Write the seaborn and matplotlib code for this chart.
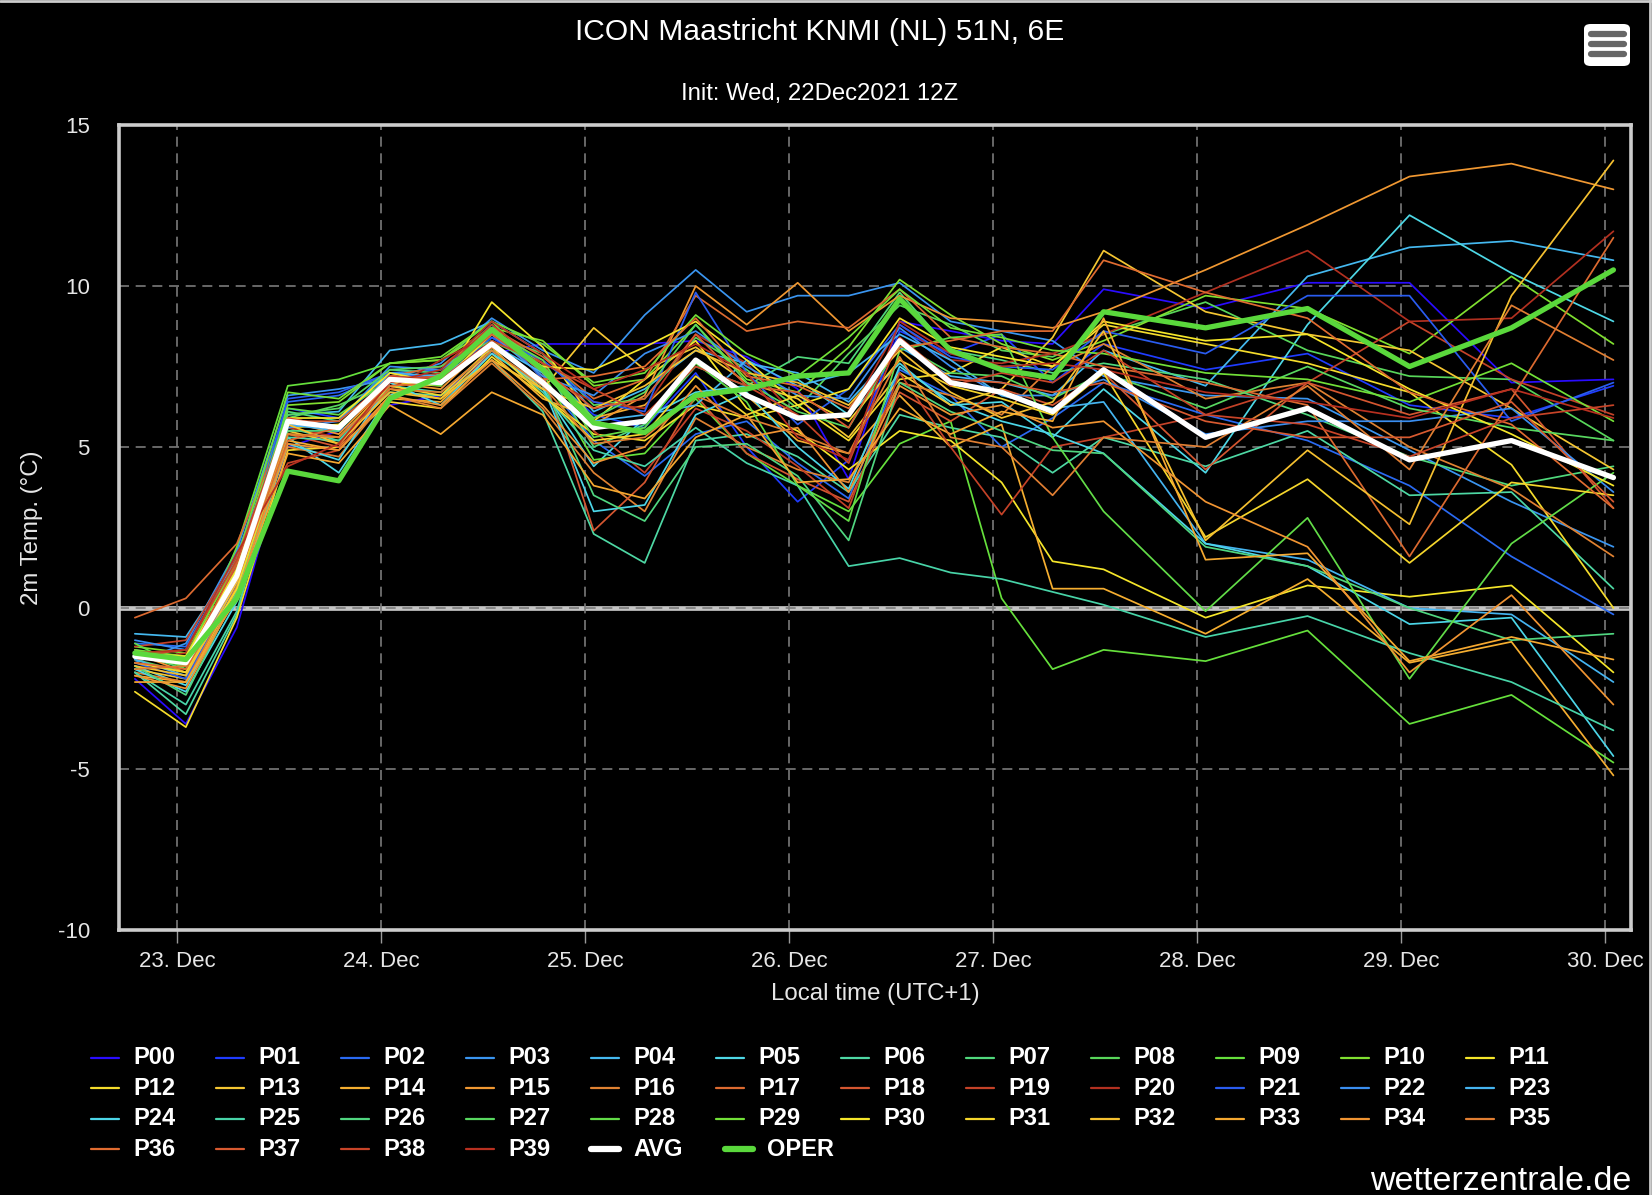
import matplotlib
matplotlib.use("Agg")
import matplotlib.pyplot as plt
import matplotlib.dates as mdates
from matplotlib.lines import Line2D
from matplotlib.patches import FancyBboxPatch
import pandas as pd
import seaborn as sns

# forecast steps in local time (UTC+1): 6-hourly to +120h, then 12-hourly
times = pd.to_datetime([
    "2021-12-22 19:00", "2021-12-23 01:00", "2021-12-23 07:00", "2021-12-23 13:00",
    "2021-12-23 19:00", "2021-12-24 01:00", "2021-12-24 07:00", "2021-12-24 13:00",
    "2021-12-24 19:00", "2021-12-25 01:00", "2021-12-25 07:00", "2021-12-25 13:00",
    "2021-12-25 19:00", "2021-12-26 01:00", "2021-12-26 07:00", "2021-12-26 13:00",
    "2021-12-26 19:00", "2021-12-27 01:00", "2021-12-27 07:00", "2021-12-27 13:00",
    "2021-12-28 01:00", "2021-12-28 13:00", "2021-12-29 01:00", "2021-12-29 13:00",
    "2021-12-30 01:00",
])

p00 = [-2.2, -3.6, -0.6, 5.0, 5.5, 6.3, 6.6, 7.9, 8.2, 8.2, 8.2, 8.3, 7.8, 6.8, 4.0, 8.9, 8.6, 8.3, 8.2, 9.9, 9.3, 10.1, 10.1, 7.0, 7.1]
p01 = [-1.3, -1.6, 1.2, 6.2, 5.9, 7.2, 7.1, 8.4, 7.4, 6.0, 5.6, 7.3, 5.0, 3.3, 4.6, 8.6, 7.9, 8.5, 7.0, 8.2, 7.4, 7.9, 6.3, 5.9, 6.9]
p02 = [-1.1, -1.2, 1.6, 6.4, 6.6, 7.3, 7.4, 8.8, 7.1, 5.2, 4.1, 5.4, 5.8, 4.5, 3.4, 7.4, 6.6, 5.0, 5.9, 7.0, 6.0, 5.2, 3.8, 1.6, -0.2]
p03 = [-1.7, -1.1, 1.8, 6.6, 6.8, 7.1, 7.6, 9.0, 8.0, 7.3, 9.1, 10.5, 9.2, 9.7, 9.7, 10.1, 8.9, 8.6, 8.3, 7.2, 6.6, 6.5, 4.9, 3.3, 1.9]
p04 = [-0.8, -0.9, 1.5, 6.0, 6.1, 8.0, 8.2, 8.9, 7.9, 6.1, 6.8, 8.0, 7.6, 7.3, 6.4, 8.1, 7.2, 7.0, 6.6, 8.0, 6.9, 10.3, 11.2, 11.4, 10.8]
p05 = [-1.8, -2.4, 0.4, 5.3, 4.2, 6.6, 7.3, 8.0, 6.8, 4.4, 5.9, 6.7, 6.9, 7.1, 6.0, 7.6, 6.3, 6.4, 5.3, 6.8, 4.2, 8.8, 12.2, 10.4, 8.9]
p06 = [-2.0, -3.3, -0.2, 5.6, 5.2, 6.7, 6.6, 7.7, 6.1, 2.3, 1.4, 5.2, 5.4, 4.7, 3.6, 6.0, 5.6, 5.3, 4.2, 5.3, 4.4, 5.5, 3.5, 3.6, 0.6]
p07 = [-1.4, -1.9, 1.3, 6.1, 5.8, 7.4, 7.3, 8.6, 7.6, 5.0, 5.7, 7.5, 6.9, 7.8, 7.6, 9.8, 8.0, 7.7, 7.3, 7.6, 7.1, 6.0, 4.7, 3.8, 4.4]
p08 = [-1.6, -2.0, 1.0, 5.9, 6.3, 7.0, 7.2, 8.5, 7.9, 6.3, 6.5, 8.4, 7.4, 6.2, 7.9, 9.4, 8.8, 8.0, 7.8, 8.5, 9.5, 8.0, 7.2, 7.1, 5.2]
p09 = [-1.5, -1.8, 1.9, 6.9, 7.1, 7.6, 7.7, 8.9, 7.3, 4.6, 4.8, 6.5, 4.8, 3.8, 3.0, 5.1, 5.8, 0.3, -1.9, -1.3, -1.65, -0.7, -3.6, -2.7, -4.8]
p10 = [-1.2, -1.4, 1.4, 6.3, 6.4, 7.6, 7.7, 8.7, 8.3, 6.9, 7.1, 8.8, 7.1, 6.7, 8.1, 10.2, 9.1, 8.2, 7.7, 8.3, 9.7, 9.3, 7.9, 10.3, 8.2]
p11 = [-1.6, -1.5, 1.0, 5.6, 5.7, 7.0, 6.9, 9.5, 8.1, 5.8, 7.1, 8.3, 6.2, 5.5, 4.3, 5.5, 5.2, 3.9, 1.45, 1.2, -0.3, 0.7, 0.35, 0.7, -2.0]
p12 = [-2.6, -3.7, -0.3, 4.9, 5.0, 6.4, 6.2, 7.8, 6.6, 5.4, 5.2, 6.3, 5.9, 6.3, 5.2, 7.1, 7.3, 8.1, 7.5, 8.8, 8.2, 7.6, 6.7, 4.45, 0.0]
p13 = [-1.9, -2.2, 0.6, 5.5, 5.1, 6.8, 6.5, 8.0, 6.8, 8.7, 7.4, 8.1, 7.0, 6.5, 5.3, 7.3, 6.3, 6.8, 8.4, 11.1, 9.2, 8.5, 8.0, 6.2, 4.3]
p14 = [-2.1, -2.3, 0.5, 5.2, 4.9, 6.5, 6.4, 7.9, 6.5, 5.9, 6.3, 7.7, 6.6, 5.2, 4.8, 6.6, 5.0, 5.7, 0.6, 0.6, -0.8, 0.9, -1.7, -1.05, -5.2]
p15 = [-1.4, -2.0, 0.9, 5.8, 5.4, 7.0, 6.8, 8.3, 7.0, 5.7, 6.6, 10.0, 8.8, 10.1, 8.6, 9.7, 9.0, 8.9, 8.7, 9.2, 10.5, 11.9, 13.4, 13.8, 13.0]
p16 = [-2.0, -2.3, 0.7, 5.0, 4.7, 6.6, 6.2, 7.6, 6.2, 4.2, 3.0, 5.9, 5.0, 4.3, 3.9, 7.0, 6.6, 6.0, 7.5, 8.2, 6.5, 7.0, 5.0, 3.7, 1.6]
p17 = [-0.3, 0.3, 2.0, 5.9, 5.6, 7.2, 7.5, 8.7, 7.8, 6.5, 7.1, 9.7, 8.6, 8.9, 8.7, 9.9, 8.4, 8.1, 7.9, 7.5, 7.0, 6.3, 1.6, 6.5, 11.5]
p18 = [-1.3, -1.7, 1.3, 5.4, 5.0, 7.2, 6.9, 8.6, 7.3, 2.4, 3.9, 6.6, 4.8, 4.0, 3.3, 6.7, 5.8, 6.8, 6.3, 7.3, 4.3, 7.0, 6.0, 6.8, 3.1]
p19 = [-1.2, -1.0, 1.6, 4.5, 4.9, 7.0, 7.3, 8.8, 7.6, 5.5, 4.2, 6.2, 5.5, 4.4, 3.1, 7.3, 5.0, 2.9, 5.0, 5.3, 6.0, 7.0, 8.9, 7.1, 6.0]
p20 = [-1.6, -1.4, 1.1, 5.6, 5.3, 6.8, 7.7, 8.5, 7.2, 6.4, 6.2, 8.5, 7.6, 5.9, 6.0, 8.8, 7.7, 7.6, 7.9, 8.5, 9.8, 11.1, 8.9, 9.0, 11.7]
p21 = [-1.7, -2.2, 0.8, 6.5, 6.7, 7.3, 7.1, 8.4, 7.7, 6.4, 6.1, 9.8, 7.3, 5.7, 6.8, 8.8, 7.8, 7.5, 7.4, 8.6, 7.9, 9.7, 9.7, 5.8, 7.0]
p22 = [-1.0, -1.3, 1.7, 5.6, 5.8, 7.5, 7.4, 8.5, 7.2, 6.6, 7.9, 8.6, 7.5, 6.6, 6.5, 8.7, 7.5, 6.6, 6.6, 7.1, 5.4, 5.8, 5.8, 6.2, 3.6]
p23 = [-1.6, -2.1, 0.9, 5.7, 5.5, 7.3, 7.2, 8.2, 7.3, 5.8, 6.0, 6.3, 7.7, 6.9, 7.3, 8.5, 7.7, 6.6, 6.2, 6.4, 2.0, 1.5, 0.0, -0.2, -2.3]
p24 = [-1.9, -2.6, 0.2, 5.1, 4.6, 7.0, 6.3, 7.9, 6.9, 3.0, 3.2, 6.0, 6.7, 5.0, 3.7, 7.5, 6.4, 5.8, 5.4, 4.8, 2.0, 1.3, -0.5, -0.3, -4.6]
p25 = [-2.0, -3.0, -0.1, 5.3, 5.2, 6.9, 6.7, 8.0, 6.7, 4.9, 4.4, 5.6, 4.5, 3.8, 1.3, 1.55, 1.1, 0.9, 0.5, 0.1, -0.9, -0.25, -1.4, -2.3, -3.8]
p26 = [-1.8, -2.7, 0.5, 5.5, 5.5, 7.1, 7.0, 8.2, 7.0, 3.5, 2.7, 5.0, 5.1, 4.1, 2.1, 7.0, 6.1, 5.5, 4.9, 4.8, 1.9, 1.3, 0.0, -1.0, -0.8]
p27 = [-1.5, -1.6, 1.2, 6.0, 6.2, 7.4, 7.5, 8.3, 7.5, 5.9, 6.7, 8.8, 7.0, 6.1, 5.6, 8.2, 7.3, 7.2, 6.5, 7.3, 6.2, 7.5, 6.2, 5.6, 5.2]
p28 = [-1.1, -1.9, 1.1, 6.2, 6.0, 7.1, 6.9, 8.6, 7.7, 5.3, 5.6, 7.6, 6.4, 3.8, 2.7, 8.0, 8.4, 8.5, 5.3, 3.0, -0.1, 2.8, -2.2, 2.0, 4.2]
p29 = [-1.3, -1.5, 1.5, 6.7, 6.5, 7.6, 7.8, 8.9, 8.2, 7.0, 7.3, 9.1, 7.9, 7.2, 8.4, 9.9, 8.7, 8.4, 8.0, 7.9, 7.3, 7.1, 6.4, 7.6, 5.8]
p30 = [-1.4, -1.5, 1.2, 5.9, 5.9, 7.3, 7.0, 8.5, 7.5, 7.4, 8.1, 8.9, 7.7, 6.3, 6.8, 9.0, 8.1, 7.8, 7.5, 8.9, 8.3, 8.5, 6.8, 5.4, 3.8]
p31 = [-1.7, -2.0, 0.6, 5.4, 5.3, 6.9, 6.6, 8.1, 6.6, 5.2, 5.4, 7.2, 6.0, 6.6, 5.8, 7.7, 6.9, 6.5, 6.0, 7.3, 2.2, 4.0, 1.4, 3.9, 3.5]
p32 = [-1.8, -2.1, 0.8, 5.7, 5.1, 6.7, 6.5, 7.7, 6.8, 6.2, 6.9, 8.0, 7.3, 7.0, 6.3, 8.0, 6.7, 5.9, 6.4, 8.6, 2.1, 4.9, 2.6, 9.7, 13.9]
p33 = [-2.3, -2.3, 0.3, 4.8, 4.5, 6.3, 5.4, 6.7, 6.0, 3.8, 3.4, 5.3, 6.0, 3.9, 4.0, 6.2, 5.4, 6.1, 5.8, 9.0, 1.5, 1.7, -1.65, -0.9, -1.6]
p34 = [-2.1, -2.5, 0.4, 5.1, 4.9, 6.6, 6.3, 7.7, 6.3, 4.5, 5.0, 6.9, 5.3, 5.6, 3.6, 6.9, 6.0, 6.3, 5.6, 5.8, 3.3, 1.9, -2.0, 0.4, -3.0]
p35 = [-1.9, -1.8, 1.0, 5.4, 5.3, 6.8, 6.7, 8.0, 6.9, 5.1, 5.3, 6.6, 5.9, 5.4, 4.8, 7.8, 5.3, 5.0, 3.5, 5.3, 5.0, 6.9, 4.3, 9.4, 7.7]
p36 = [-1.7, -1.9, 0.9, 5.2, 5.6, 6.9, 7.0, 8.1, 7.1, 7.2, 7.5, 9.0, 7.2, 6.9, 6.2, 8.1, 8.3, 8.6, 8.6, 10.8, 9.8, 9.0, 6.7, 5.7, 3.1]
p37 = [-1.5, -1.7, 1.4, 5.8, 5.8, 7.1, 7.2, 8.5, 7.4, 6.2, 6.5, 8.5, 6.9, 6.7, 5.6, 8.4, 7.1, 7.0, 6.7, 7.0, 5.8, 5.3, 5.3, 6.4, 3.3]
p38 = [-1.5, -1.3, 1.5, 5.9, 5.6, 7.2, 7.1, 8.3, 7.6, 6.8, 6.0, 7.5, 6.9, 6.0, 4.5, 8.4, 6.9, 7.3, 7.0, 8.0, 6.0, 5.7, 4.7, 5.9, 6.3]
p39 = [-1.4, -1.3, 1.7, 4.4, 5.1, 7.0, 7.4, 8.9, 7.9, 6.8, 7.4, 8.2, 7.3, 5.3, 4.6, 8.9, 7.9, 7.5, 7.6, 7.4, 6.7, 6.4, 5.9, 6.8, 5.9]

avg = [-1.5, -1.7, 1.0, 5.8, 5.6, 7.1, 7.0, 8.2, 7.0, 5.6, 5.8, 7.7, 6.6, 5.9, 6.0, 8.3, 7.0, 6.7, 6.1, 7.4, 5.3, 6.2, 4.6, 5.2, 4.05]
oper = [-1.4, -1.6, 0.3, 4.25, 3.95, 6.5, 7.2, 8.65, 7.4, 5.75, 5.45, 6.6, 6.8, 7.2, 7.3, 9.6, 8.0, 7.4, 7.15, 9.2, 8.7, 9.3, 7.5, 8.7, 10.5]

members = [p00, p01, p02, p03, p04, p05, p06, p07, p08, p09,
           p10, p11, p12, p13, p14, p15, p16, p17, p18, p19,
           p20, p21, p22, p23, p24, p25, p26, p27, p28, p29,
           p30, p31, p32, p33, p34, p35, p36, p37, p38, p39]
member_names = [f"P{i:02d}" for i in range(len(members))]

member_colors = [
    "#2a0cff", "#1f3cff", "#2a6af2", "#3a95f0", "#45b9f0", "#4ed8e6", "#4ed8a4",
    "#50d87c", "#58d65a", "#66e03c", "#80e030", "#f5e62a", "#f5dc2c", "#f5c632",
    "#f5ae30", "#f09832", "#e08232", "#dc6a30", "#d45630", "#c44228", "#b23020",
    "#2a5cf0", "#3a8ef0", "#45b4f0", "#4cd6e8", "#48d4a8", "#50d680", "#58d860",
    "#62dc48", "#72e038", "#f5e62a", "#f5d62c", "#f5c030", "#f5a830", "#f09432",
    "#e07e32", "#e06c30", "#d85a30", "#c84428", "#b83020",
]
avg_color = "#ffffff"
oper_color = "#5ad83c"

W, H = 1652, 1195

rows = []
for name, vals in zip(member_names, members):
    for t, v in zip(times, vals):
        rows.append((t, v, name))
df = pd.DataFrame(rows, columns=["time", "temp", "member"])

sns.set_theme(style="dark")
plt.rcParams['font.family'] = ['Liberation Sans', 'DejaVu Sans']
plt.rcParams['axes.unicode_minus'] = False

fig = plt.figure(figsize=(W / 100, H / 100), dpi=100, facecolor="black")
ax = fig.add_axes([119 / W, 1 - 930 / H, (1631 - 119) / W, (930 - 125) / H])
ax.set_facecolor("black")

palette = dict(zip(member_names, member_colors))
sns.lineplot(data=df, x="time", y="temp", hue="member", palette=palette,
             linewidth=1.25, legend=False, estimator=None, ax=ax)
sns.lineplot(x=times, y=avg, color=avg_color, linewidth=3.8, ax=ax)
sns.lineplot(x=times, y=oper, color=oper_color, linewidth=3.8, ax=ax)

# grid, zero line and frame
ax.set_axisbelow(True)
ax.grid(True, color="#7a7a7a", linestyle=(0, (6, 4)), linewidth=1.2)
ax.axhline(0, color="#c4c4c4", linewidth=3.4, zorder=0.4)
for sp in ax.spines.values():
    sp.set_visible(True)
    sp.set_color("#cccccc")
    sp.set_linewidth(2.6)

ax.set_xlim(pd.Timestamp("2021-12-22 17:08"), pd.Timestamp("2021-12-30 03:04"))
ax.set_ylim(-10, 15)
ax.set_yticks([-10, -5, 0, 5, 10, 15])
ax.set_xticks(pd.date_range("2021-12-23", "2021-12-30", freq="D"))
ax.xaxis.set_major_formatter(mdates.DateFormatter("%d. %b"))
ax.tick_params(axis="y", length=0, pad=21, labelsize=16, labelcolor="#e6e6e6")
ax.tick_params(axis="x", length=9, width=1, color="#9a9a9a", pad=6,
               labelsize=16, labelcolor="#e6e6e6", bottom=True)

ax.set_xlabel("Local time (UTC+1)", color="#e6e6e6", fontsize=17.3, labelpad=8)
ax.set_ylabel("2m Temp. (°C)", color="#e6e6e6", fontsize=17.3, va="center")
ax.yaxis.set_label_coords((32 - 119) / (1631 - 119), 0.5)

fig.text(820 / W, 1 - 32 / H, "ICON Maastricht KNMI (NL) 51N, 6E", color="white",
         fontsize=21.6, ha="center", va="center")
fig.text(820 / W, 1 - 94 / H, "Init: Wed, 22Dec2021 12Z", color="white",
         fontsize=17.2, ha="center", va="center")

# legend laid out row by row, 12 columns
entries = [(n, c, 1.6) for n, c in zip(member_names, member_colors)]
entries += [("AVG", avg_color, 4.5), ("OPER", oper_color, 4.5)]
for i, (name, color, lw) in enumerate(entries):
    r, c = divmod(i, 12)
    y = 1 - (1058 + 30.4 * r) / H
    xt = 133 + 125 * c
    if name == "OPER":
        xt += 9
    fig.add_artist(Line2D([(xt - 42) / W, (xt - 14) / W], [y, y], color=color,
                          linewidth=lw, transform=fig.transFigure))
    fig.text(xt / W, y, name, color="white", fontsize=17, fontweight="bold",
             ha="left", va="center")

fig.text(1631 / W, 1 - 1181 / H, "wetterzentrale.de", color="white",
         fontsize=24.5, ha="right", va="center")

# export menu button
fig.add_artist(FancyBboxPatch((1584 / W, 1 - 66 / H), 46 / W, 42 / H,
                              boxstyle="round,pad=0,rounding_size=0.004",
                              facecolor="white", edgecolor="none",
                              transform=fig.transFigure))
for yb in (34, 44, 54):
    fig.add_artist(Line2D([1591 / W, 1624 / W], [1 - yb / H, 1 - yb / H],
                          color="#666666", linewidth=4.5, solid_capstyle="round",
                          transform=fig.transFigure))

# thin frame at top and right edge of the picture
fig.add_artist(Line2D([0, 1], [0.999, 0.999], color="#cccccc", linewidth=2,
                      transform=fig.transFigure))
fig.add_artist(Line2D([0.999, 0.999], [0, 1], color="#cccccc", linewidth=2,
                      transform=fig.transFigure))

fig.savefig("out.png", dpi=100, facecolor="black")
